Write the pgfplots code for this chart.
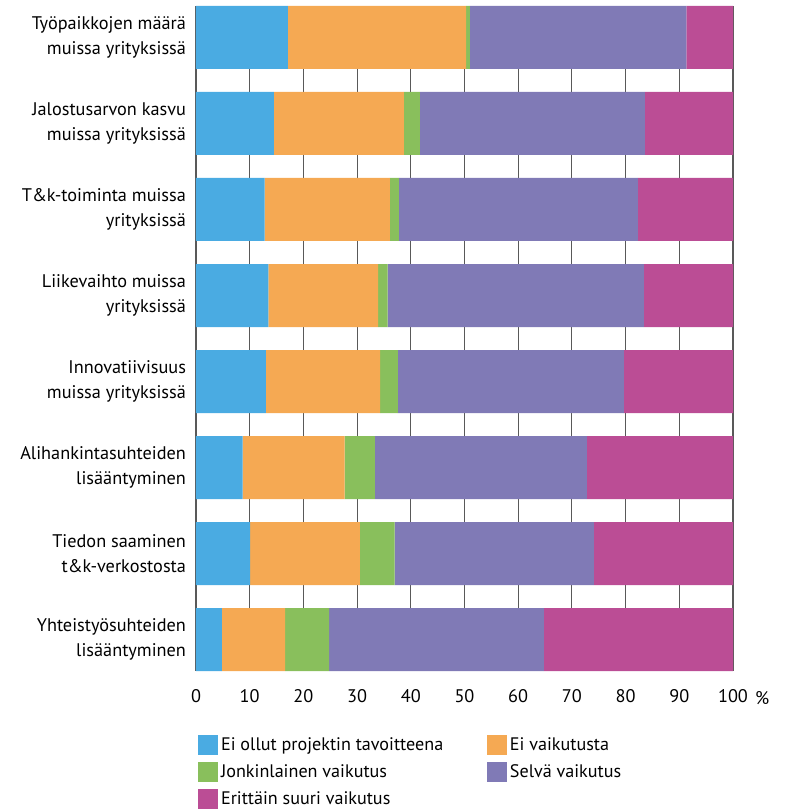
\documentclass[border=0pt]{standalone}
\usepackage{fontspec}
\setmainfont{PT Sans}
\usepackage{pgfplots}
\pgfplotsset{compat=1.18}
\usetikzlibrary{calc}

\definecolor{c_blue}{RGB}{74,171,226}
\definecolor{c_orange}{RGB}{245,169,83}
\definecolor{c_green}{RGB}{137,191,92}
\definecolor{c_purple}{RGB}{128,122,182}
\definecolor{c_magenta}{RGB}{187,77,149}

% shares (%) per answer
\pgfplotstableread{
cat ei_tav ei_vaik jonkin selva erittain
0 17.1 33.2 0.7 40.3 8.7
1 14.5 24.2 3.0 41.9 16.4
2 12.8 23.3 1.7 44.5 17.7
3 13.5 20.4 1.8 47.7 16.6
4 13.0 21.3 3.3 42.1 20.3
5 8.7 19.0 5.6 39.5 27.2
6 10.1 20.4 6.5 37.1 25.9
7 4.8 11.8 8.2 40.0 35.2
}\datatable

\begin{document}
\begin{tikzpicture}
\begin{axis}[
    xbar stacked,
    scale only axis,
    width=402.75pt,
    height=498.75pt,
    bar width=47.25pt,
    y dir=reverse,
    xmin=0, xmax=100,
    ymin=-0.366, ymax=7.366,
    xtick={0,10,...,100},
    ytick={0,...,7},
    yticklabels={
        {Työpaikkojen määrä\\muissa yrityksissä},
        {Jalostusarvon kasvu\\muissa yrityksissä},
        {T\&k-toiminta muissa\\yrityksissä},
        {Liikevaihto muissa\\yrityksissä},
        {Innovatiivisuus\\muissa yrityksissä},
        {Alihankintasuhteiden\\lisääntyminen},
        {Tiedon saaminen\\t\&k-verkostosta},
        {Yhteistyösuhteiden\\lisääntyminen}},
    yticklabel style={align=right, font=\fontsize{13.7}{18.75}\selectfont, xshift=-4pt},
    xticklabel style={font=\fontsize{13.7}{16}\selectfont, yshift=-10pt},
    /pgf/number format/assume math mode=true,
    tick style={draw=none},
    xmajorgrids,
    grid style={black!65, line width=0.8pt},
    axis line style={draw=none},
    clip=false,
    legend columns=2,
    legend cell align=left,
    legend style={
        draw=none, fill=none,
        at={(0.004,-0.096)}, anchor=north west,
        inner sep=0pt,
        row sep=5pt,
        font=\fontsize{13.6}{16}\selectfont,
        /tikz/column 2/.style={column sep=31pt},
    },
    legend image code/.code={\fill[#1] (0pt,-7.5pt) rectangle (15pt,7.5pt);},
]
\addplot[fill=c_blue, draw=none] table[x=ei_tav, y=cat] {\datatable};
\addlegendentry{Ei ollut projektin tavoitteena}
\addplot[fill=c_orange, draw=none] table[x=ei_vaik, y=cat] {\datatable};
\addlegendentry{Ei vaikutusta}
\addplot[fill=c_green, draw=none] table[x=jonkin, y=cat] {\datatable};
\addlegendentry{Jonkinlainen vaikutus}
\addplot[fill=c_purple, draw=none] table[x=selva, y=cat] {\datatable};
\addlegendentry{Selvä vaikutus}
\addplot[fill=c_magenta, draw=none] table[x=erittain, y=cat] {\datatable};
\addlegendentry{Erittäin suuri vaikutus}

\node[anchor=west, font=\fontsize{13.7}{16}\selectfont] at ($(rel axis cs:1,0)+(13pt,-20pt)$) {\%};
\coordinate (bl) at (rel axis cs:0,0);
\coordinate (tr) at (rel axis cs:1,1);
\end{axis}
\path ($(bl)+(-147pt,-105pt)$) rectangle ($(tr)+(40.5pt,4.5pt)$);
\end{tikzpicture}
\end{document}
